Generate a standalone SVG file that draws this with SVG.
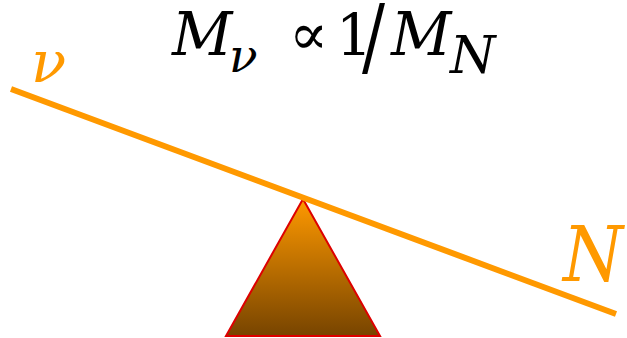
<svg xmlns="http://www.w3.org/2000/svg" width="627" height="338" viewBox="0 0 627 338">
<style>
text{font-family:'DejaVu Serif','Liberation Serif',serif}
.m{font-style:italic;fill:#000}
.r{fill:#000}
.o{font-style:italic;fill:#FF9900}
</style>
<defs>
<linearGradient id="g" x1="0" y1="0" x2="0" y2="1">
<stop offset="0" stop-color="#FF9900"/>
<stop offset="1" stop-color="#774400"/>
</linearGradient>
</defs>
<g id="fulcrum">
<polygon points="303,199 226,336 380,336" fill="url(#g)" stroke="#DD0000" stroke-width="2"/>
</g>
<g id="connectors">
<line x1="11" y1="89" x2="616" y2="314" stroke="#FF9900" stroke-width="6"/>
</g>
<g id="formula">
<text class="m" x="172" y="55" font-size="59">M</text>
<text class="m" x="229" y="72" font-size="47">ν</text>
<text class="r" x="289" y="54" font-size="58">∝</text>
<text class="r" x="336" y="55" font-size="57">1</text>
<text class="r" x="362" y="66" font-size="86" textLength="23" lengthAdjust="spacingAndGlyphs">/</text>
<text class="m" x="391" y="55" font-size="59">M</text>
<text class="m" x="450" y="73" font-size="52">N</text>
</g>
<g id="label-nu"><text class="o" x="31" y="82" font-size="58">ν</text></g>
<g id="label-N"><text class="o" x="563" y="281" font-size="77" textLength="60" lengthAdjust="spacingAndGlyphs">N</text></g>
</svg>
